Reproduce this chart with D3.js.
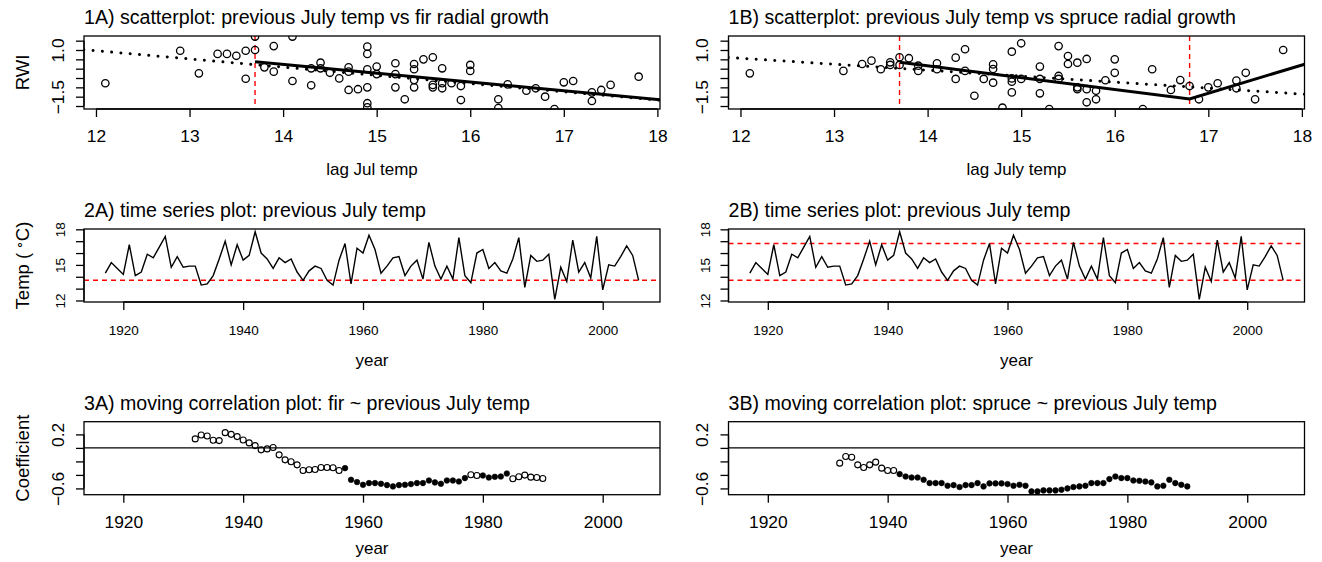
<!DOCTYPE html>
<html><head><meta charset="utf-8">
<script src="https://cdn.jsdelivr.net/npm/d3@7"></script>
<style>
body{margin:0;background:#fff}
svg{display:block}
text{font-family:"Liberation Sans",Arial,Helvetica,sans-serif;fill:#000}
</style>
</head><body>
<svg id="c" width="1322" height="562"></svg>
<script>
// ---------------- DATA ----------------
const startYear = 1917;
const julyTemp = [14.3,15.2,14.7,14.2,16.7,14.1,14.4,15.9,15.6,16.5,17.4,14.8,15.7,14.8,14.9,14.9,13.3,13.4,14.1,15.5,
  17.0,15.0,16.7,15.4,15.8,17.8,16.0,15.5,14.7,15.6,15.2,15.5,14.4,13.7,14.5,14.9,14.7,13.7,13.3,15.4,
  16.8,13.4,16.4,16.0,17.5,16.3,14.3,14.9,15.6,15.7,14.1,14.9,15.4,13.8,16.9,14.9,13.8,14.9,13.8,17.3,
  14.1,13.5,16.0,16.3,14.7,15.2,14.5,14.3,15.5,17.3,13.1,15.8,15.3,15.4,15.9,12.1,14.8,13.6,17.1,14.4,
  15.2,13.9,17.4,12.9,15.0,14.9,15.7,16.6,15.8,13.7];
const tempYears = julyTemp.map((d, i) => startYear + i);

const firX = [12.1,12.9,13.1,13.3,13.4,13.5,13.6,13.6,13.7,13.7,13.8,13.9,13.9,14.1,14.1,14.3,14.3,14.4,14.4,14.5,
  14.6,14.7,14.7,14.7,14.8,14.9,14.9,14.9,14.9,14.9,14.9,15.0,15.0,15.2,15.2,15.2,15.3,15.4,15.4,15.4,
  15.4,15.5,15.6,15.6,15.6,15.7,15.7,15.7,15.8,15.9,15.9,16.0,16.0,16.3,16.3,16.4,16.6,16.7,16.8,16.9,
  17.0,17.1,17.3,17.3,17.4,17.5,17.8];
const firY = [-0.78,0.96,-0.25,0.79,0.79,0.69,0.96,-0.54,1.0,1.72,0.07,1.21,-0.16,1.72,-0.66,0.02,-0.89,0.32,0.02,-0.22,
  -0.52,0.07,-0.16,-1.14,-1.10,1.18,0.79,-0.03,-1.0,-1.85,-2.07,0.11,-0.29,0.29,-0.29,-1.0,-1.64,0.25,-0.03,-0.61,
  -1.0,0.50,0.61,-0.87,-1.0,0.02,-0.78,-1.05,-0.78,-0.93,-1.68,0.20,-0.12,-1.64,-2.11,-0.84,-1.18,-1.05,-1.50,-2.16,
  -0.73,-0.66,-1.27,-1.73,-1.14,-0.87,-0.43];

const spruceX = [12.1,13.1,13.3,13.4,13.5,13.6,13.6,13.7,13.7,13.8,13.9,13.9,14.1,14.1,14.3,14.3,14.4,14.4,14.5,14.6,
  14.7,14.7,14.7,14.8,14.9,14.9,14.9,14.9,15.0,15.0,15.2,15.2,15.2,15.3,15.4,15.4,15.4,15.5,15.5,15.6,
  15.6,15.6,15.7,15.7,15.7,15.8,15.8,15.9,16.0,16.0,16.3,16.4,16.6,16.7,16.8,16.9,17.0,17.1,17.3,17.3,
  17.4,17.5,17.8];
const spruceY = [-0.25,-0.12,0.25,0.43,-0.03,0.34,0.20,0.61,0.20,0.56,0.16,-0.12,0.29,-0.03,0.59,-0.55,1.04,-0.12,-1.45,-0.55,
  0.23,-0.02,-0.75,-2.09,0.91,-0.52,-0.70,-1.27,1.36,-0.55,0.11,-0.55,-1.32,-2.16,1.21,-0.39,-0.55,0.68,0.25,0.32,
  -1.0,-1.10,0.52,-1.10,-1.80,-1.18,-1.64,-0.62,0.50,-0.22,-2.16,-0.03,-1.14,-0.61,-0.93,-1.64,-1.0,-0.78,-0.64,-1.05,
  -0.22,-1.64,1.0];

// fitted lines (full-range linear fit, dotted) and segmented fits (solid)
const firLinFitX = [11.87, 18.03];
const firLinFitY = [1.02, -1.69];
const firSegFitX = [13.7, 18.03];
const firSegFitY = [0.37, -1.67];
const firBreaks = [13.7];
const spruceLinFitX = [11.87, 18.03];
const spruceLinFitY = [0.60, -1.37];
const spruceSegFitX = [13.7, 16.8, 18.03];
const spruceSegFitY = [0.34, -1.62, 0.24];
const spruceBreaks = [13.7, 16.8];

const corrStartYear = 1932;
const firCoef = [0.133,0.192,0.177,0.113,0.108,0.226,0.201,0.167,0.118,0.074,0.034,-0.029,-0.015,0.005,-0.103,-0.177,-0.206,-0.251,-0.334,-0.324,
  -0.319,-0.290,-0.290,-0.295,-0.334,-0.300,-0.472,-0.506,-0.546,-0.521,-0.521,-0.531,-0.551,-0.570,-0.551,-0.546,-0.536,-0.521,-0.521,-0.482,
  -0.511,-0.531,-0.482,-0.482,-0.497,-0.447,-0.398,-0.408,-0.408,-0.438,-0.428,-0.423,-0.379,-0.457,-0.428,-0.403,-0.433,-0.438,-0.452];
const firSig = [0,0,0,0,0,0,0,0,0,0,0,0,0,0,0,0,0,0,0,0,
  0,0,0,0,0,1,1,1,1,1,1,1,1,1,1,1,1,1,1,1,
  1,1,1,1,1,1,0,0,1,1,1,1,1,0,0,0,0,0,0];
const spruceCoef = [-0.226,-0.128,-0.138,-0.251,-0.290,-0.251,-0.211,-0.300,-0.334,-0.334,-0.388,-0.423,-0.438,-0.438,-0.472,-0.521,-0.521,-0.521,-0.560,-0.551,
  -0.580,-0.551,-0.551,-0.521,-0.570,-0.526,-0.526,-0.526,-0.536,-0.560,-0.546,-0.560,-0.644,-0.644,-0.629,-0.629,-0.629,-0.619,-0.600,-0.580,
  -0.570,-0.560,-0.521,-0.521,-0.521,-0.462,-0.423,-0.447,-0.447,-0.482,-0.487,-0.497,-0.511,-0.570,-0.560,-0.472,-0.521,-0.546,-0.570];
const spruceSig = [0,0,0,0,0,0,0,0,0,0,1,1,1,1,1,1,1,1,1,1,
  1,1,1,1,1,1,1,1,1,1,1,1,1,1,1,1,1,1,1,1,
  1,1,1,1,1,1,1,1,1,1,1,1,1,1,1,1,1,1,1];
const corrYears = firCoef.map((d, i) => corrStartYear + i);

// axis ticks / labels
const tempTicksX = [12,13,14,15,16,17,18];
const rwiTicks = [-2.0,-1.5,-1.0,-0.5,0.0,0.5,1.0,1.5];
const rwiTickLabels = ["","\u22121.5","","","","","1.0",""];
const yearTicks = [1920,1940,1960,1980,2000];
const tempTicksY = [12,13,14,15,16,17,18];
const tempTickLabelsY = ["12","","","15","","","18"];
const coefTicks = [-0.6,-0.4,-0.2,0.0,0.2];
const coefTickLabels = ["\u22120.6","","","","0.2"];

const titles = ["1A) scatterplot: previous July temp vs fir radial growth",
  "1B) scatterplot: previous July temp vs spruce radial growth",
  "2A) time series plot: previous July temp",
  "2B) time series plot: previous July temp",
  "3A) moving correlation plot: fir ~ previous July temp",
  "3B) moving correlation plot: spruce ~ previous July temp"];

// ---------------- LAYOUT ----------------
const svg = d3.select("#c");
const colLeft = [84, 728.5];
const W = 576, H = 73;
const rowTop = [36, 229, 421.7];
const RED = "#ff0000";
let clipN = 0;

function panel(o) {
  const left = colLeft[o.col], top = rowTop[o.row];
  const x = d3.scaleLinear().domain(o.xDomain).range([left, left + W]);
  const y = d3.scaleLinear().domain(o.yDomain).range([top + H, top]);
  const id = "clip" + (clipN++);
  svg.append("clipPath").attr("id", id).append("rect")
    .attr("x", left).attr("y", top).attr("width", W).attr("height", H);
  const g = svg.append("g");
  const plot = g.append("g").attr("clip-path", `url(#${id})`);

  // x axis
  const xa = g.append("g").attr("transform", `translate(0,${top + H})`)
    .call(d3.axisBottom(x).tickValues(o.xTicks).tickSize(8).tickSizeOuter(0).tickFormat(d3.format("d")));
  xa.attr("font-family", null).attr("font-size", null);
  xa.select(".domain").remove();
  xa.selectAll(".tick line").attr("stroke", "#000").attr("stroke-width", 1.3);
  xa.selectAll(".tick text").attr("y", o.xLabOff).attr("dy", null)
    .style("font-size", o.tickFs + "px").attr("fill", "#000");
  g.append("line").attr("x1", x(o.xTicks[0])).attr("x2", x(o.xTicks[o.xTicks.length - 1]))
    .attr("y1", top + H).attr("y2", top + H).attr("stroke", "#000").attr("stroke-width", 1.3);

  // y axis
  const ya = g.append("g").attr("transform", `translate(${left},0)`)
    .call(d3.axisLeft(y).tickValues(o.yTicks).tickSize(8).tickSizeOuter(0)
      .tickFormat((d, i) => o.yTickLabels[i]));
  ya.attr("font-family", null).attr("font-size", null);
  ya.select(".domain").remove();
  ya.selectAll(".tick line").attr("stroke", "#000").attr("stroke-width", 1.3);
  ya.selectAll(".tick text").attr("x", null).attr("dy", null)
    .attr("transform", `translate(${-o.yLabOff},0) rotate(-90)`)
    .attr("text-anchor", "middle").style("font-size", o.tickFs + "px").attr("fill", "#000");
  g.append("line").attr("x1", left).attr("x2", left)
    .attr("y1", y(o.yTicks[0])).attr("y2", y(o.yTicks[o.yTicks.length - 1]))
    .attr("stroke", "#000").attr("stroke-width", 1.3);

  // box
  g.append("rect").attr("x", left).attr("y", top).attr("width", W).attr("height", H)
    .attr("fill", "none").attr("stroke", "#000").attr("stroke-width", 1.3);

  // title
  g.append("text").attr("x", left).attr("y", top - 12).style("font-size", "19.6px").text(o.title);
  // x label
  g.append("text").attr("x", left + W / 2).attr("y", o.xTitleY).attr("text-anchor", "middle")
    .style("font-size", "17px").text(o.xTitle);
  return { x, y, plot, g, left, top };
}

function ylabel(row, build) {
  const top = rowTop[row];
  const t = svg.append("text").attr("transform", `translate(29,${top + H / 2}) rotate(-90)`)
    .attr("text-anchor", "middle").style("font-size", "18.5px");
  build(t);
}

// ---------- Row 1: scatterplots ----------
const tempDomain = [11.872, 18.028];
const rwiDomain = [-2.16, 1.75];
function scatter(col, title, xTitle, xs, ys, linX, linY, segX, segY, breaks) {
  const p = panel({ col, row: 0, xDomain: tempDomain, yDomain: rwiDomain, xTicks: tempTicksX,
    yTicks: rwiTicks, yTickLabels: rwiTickLabels, tickFs: 17.4, xLabOff: 33, yLabOff: 20.5,
    title, xTitle, xTitleY: 175 });
  p.plot.selectAll("line.brk").data(breaks).enter().append("line")
    .attr("x1", d => p.x(d)).attr("x2", d => p.x(d))
    .attr("y1", p.top).attr("y2", p.top + H)
    .attr("stroke", RED).attr("stroke-width", 1.4).attr("stroke-dasharray", "5,4");
  p.plot.selectAll("circle").data(xs.map((d, i) => [d, ys[i]])).enter().append("circle")
    .attr("cx", d => p.x(d[0])).attr("cy", d => p.y(d[1])).attr("r", 3.7)
    .attr("fill", "none").attr("stroke", "#000").attr("stroke-width", 1.3);
  const line = d3.line().x(d => p.x(d[0])).y(d => p.y(d[1]));
  p.plot.append("path").datum(linX.map((d, i) => [d, linY[i]])).attr("d", line)
    .attr("fill", "none").attr("stroke", "#000").attr("stroke-width", 3)
    .attr("stroke-linecap", "round").attr("stroke-dasharray", "0.01,9.3");
  p.plot.append("path").datum(segX.map((d, i) => [d, segY[i]])).attr("d", line)
    .attr("fill", "none").attr("stroke", "#000").attr("stroke-width", 3);
}
scatter(0, titles[0], "lag Jul temp", firX, firY, firLinFitX, firLinFitY, firSegFitX, firSegFitY, firBreaks);
scatter(1, titles[1], "lag July temp", spruceX, spruceY, spruceLinFitX, spruceLinFitY, spruceSegFitX, spruceSegFitY, spruceBreaks);
ylabel(0, t => t.text("RWI"));

// ---------- Row 2: time series ----------
const yearDomain = [1913.44, 2009.56];
const tempYDomain = [11.872, 18.028];
function series(col, title, breaks) {
  const p = panel({ col, row: 1, xDomain: yearDomain, yDomain: tempYDomain, xTicks: yearTicks,
    yTicks: tempTicksY, yTickLabels: tempTickLabelsY, tickFs: 13.5, xLabOff: 32.5, yLabOff: 19,
    title, xTitle: "year", xTitleY: 366 });
  p.plot.selectAll("line.brk").data(breaks).enter().append("line")
    .attr("x1", p.left).attr("x2", p.left + W)
    .attr("y1", d => p.y(d)).attr("y2", d => p.y(d))
    .attr("stroke", RED).attr("stroke-width", 1.4).attr("stroke-dasharray", "5,4");
  const line = d3.line().x((d, i) => p.x(tempYears[i])).y(d => p.y(d));
  p.plot.append("path").datum(julyTemp).attr("d", line)
    .attr("fill", "none").attr("stroke", "#000").attr("stroke-width", 1.4);
}
series(0, titles[2], [13.7]);
series(1, titles[3], [13.7, 16.8]);
ylabel(1, t => {
  t.append("tspan").text("Temp (\u2009");
  t.append("tspan").attr("dy", -6).style("font-size", "13px").text("\u2218");
  t.append("tspan").attr("dy", 6).text("C)");
});

// ---------- Row 3: moving correlation ----------
const coefDomain = [-0.693, 0.388];
function movcor(col, title, coef, sig) {
  const p = panel({ col, row: 2, xDomain: yearDomain, yDomain: coefDomain, xTicks: yearTicks,
    yTicks: coefTicks, yTickLabels: coefTickLabels, tickFs: 17.4, xLabOff: 33, yLabOff: 20.5,
    title, xTitle: "year", xTitleY: 554 });
  p.plot.append("line").attr("x1", p.left).attr("x2", p.left + W)
    .attr("y1", p.y(0)).attr("y2", p.y(0)).attr("stroke", "#000").attr("stroke-width", 1.2);
  p.plot.selectAll("circle").data(coef.map((d, i) => ({ yr: corrYears[i], v: d, s: sig[i] })))
    .enter().append("circle")
    .attr("cx", d => p.x(d.yr)).attr("cy", d => p.y(d.v))
    .attr("r", d => d.s ? 2.8 : 3.0)
    .attr("fill", d => d.s ? "#000" : "none").attr("stroke", "#000").attr("stroke-width", d => d.s ? 0.6 : 1.1);
}
movcor(0, titles[4], firCoef, firSig);
movcor(1, titles[5], spruceCoef, spruceSig);
ylabel(2, t => t.text("Coefficient"));
</script>
</body></html>
